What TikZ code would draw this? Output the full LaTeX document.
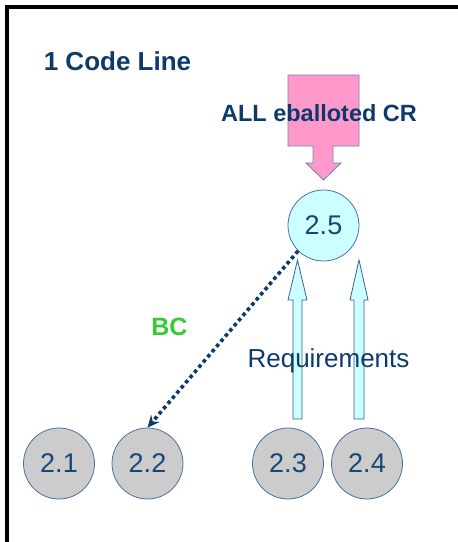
\documentclass[tikz,border=0pt]{standalone}
\usepackage{fontspec}
\setmainfont{Liberation Sans}
\usetikzlibrary{arrows.meta}
\definecolor{navy}{HTML}{0D3A6B}
\definecolor{numtxt}{HTML}{1A4677}
\definecolor{cyanfill}{HTML}{CCFFFF}
\definecolor{grayfill}{HTML}{CCCCCC}
\definecolor{circedge}{HTML}{4A6FA5}
\definecolor{arredge}{HTML}{3A5F95}
\definecolor{pinkfill}{HTML}{FF99CC}
\definecolor{pinkedge}{HTML}{7480B4}
\definecolor{bcgreen}{HTML}{33CC33}
\tikzset{
  numcirc/.style={circle, minimum size=71pt, inner sep=0pt, draw=circedge, line width=0.8pt,
    text=numtxt, font=\fontsize{27}{30}\selectfont},
  graycirc/.style={numcirc, fill=grayfill},
  cyancirc/.style={numcirc, fill=cyanfill},
  blockarrow/.style={fill=cyanfill, draw=arredge, line width=0.8pt, line join=miter},
  boldlabel/.style={font=\bfseries\fontsize{#1}{#1}\selectfont, text=navy, inner sep=0pt},
}
\begin{document}
\begin{tikzpicture}[x=1pt,y=-1pt]
\useasboundingbox (0,0) rectangle (458,542);
% frame
\draw[line width=4pt, black] (7,542) -- (7,6.5) -- (458,6.5);

% title
\node[boldlabel=26] (title) at (117.5,61) {1 Code Line};

% pink box arrow
\draw[fill=pinkfill, draw=pinkedge, line width=0.8pt]
  (288,75) -- (359,75) -- (359,146) -- (333,146) -- (333,163) -- (341,163)
  -- (323.5,180) -- (306,163) -- (313,163) -- (313,146) -- (288,146) -- cycle;
\node[boldlabel=23.5] (allcr) at (319,113) {ALL eballoted CR};

% circles
\node[cyancirc] (c25) at (323.5,225.5) {2.5};
\node[graycirc] (c21) at (59,463.5) {2.1};
\node[graycirc] (c22) at (147.5,463.5) {2.2};
\node[graycirc] (c23) at (288,463.5) {2.3};
\node[graycirc] (c24) at (367,463.5) {2.4};

% requirement block arrows
\draw[blockarrow] (293,419) -- (293,300) -- (288,300) -- (297.5,260) -- (307,300)
  -- (302,300) -- (302,419) -- cycle;
\draw[blockarrow] (354,419) -- (354,300) -- (350,300) -- (359,260) -- (368,300)
  -- (364,300) -- (364,419) -- cycle;

% BC dotted arrow
\draw[navy, line width=3.6pt, dash pattern=on 3.6pt off 3.2pt,
  -{Stealth[length=12pt,width=11pt]}] (c25.225) -- (c22.north);

\node[font=\bfseries\fontsize{25}{25}\selectfont, text=bcgreen, inner sep=0pt] (bc) at (169.5,327) {BC};
\node[font=\fontsize{26}{26}\selectfont, text=navy, inner sep=0pt] (req) at (328.5,361) {Requirements};
\end{tikzpicture}
\end{document}
